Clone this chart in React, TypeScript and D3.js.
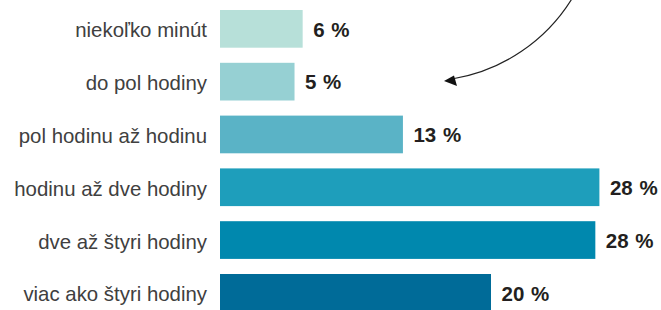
import * as d3 from "d3";

const categories = [
  "niekoľko minút",
  "do pol hodiny",
  "pol hodinu až hodinu",
  "hodinu až dve hodiny",
  "dve až štyri hodiny",
  "viac ako štyri hodiny",
];
const values = [6.1, 5.5, 13.5, 28.0, 27.7, 20.0];
const valueLabels = ["6 %", "5 %", "13 %", "28 %", "28 %", "20 %"];
const colors = ["#b7e0d9", "#96d0d3", "#5ab3c6", "#1e9ebb", "#0088ae", "#006b98"];

export default function App() {
  const W = 661;
  const H = 310;
  const x0 = 220;

  const x = d3.scaleLinear().domain([0, 20]).range([x0, x0 + 271]);
  const y = d3.scaleBand<string>()
    .domain(categories)
    .range([10, 311.7])
    .paddingInner(0.286)
    .paddingOuter(0);

  // curved pointer arrow at the top right
  const arc = "M573,-3 A174,174 0 0 1 452,79";

  return (
    <svg width={W} height={H} style={{ position: "absolute", left: 0, top: 0 }}>
      <rect width={W} height={H} fill="#fff" />
      {categories.map((c, i) => {
        const yy = y(c)!;
        const bw = y.bandwidth();
        return (
          <g key={c}>
            <rect x={x(0)} y={yy} width={x(values[i]) - x(0)} height={bw} fill={colors[i]} />
            <text
              x={207}
              y={yy + bw / 2}
              dy="0.42em"
              textAnchor="end"
              fontFamily="Liberation Sans, Arial, sans-serif"
              fontSize={20.4}
              fill="#404040"
            >
              {c}
            </text>
            <text
              x={x(values[i]) + 10.5}
              y={yy + bw / 2}
              dy="0.38em"
              fontFamily="Liberation Sans, Arial, sans-serif"
              fontSize={20.5}
              fontWeight="bold"
              wordSpacing={1}
              fill="#231f20"
            >
              {valueLabels[i]}
            </text>
          </g>
        );
      })}
      <path d={arc} fill="none" stroke="#222" strokeWidth={1.2} />
      <path d="M444,81 L454,75.5 L457,86 Z" fill="#111" />
    </svg>
  );
}
